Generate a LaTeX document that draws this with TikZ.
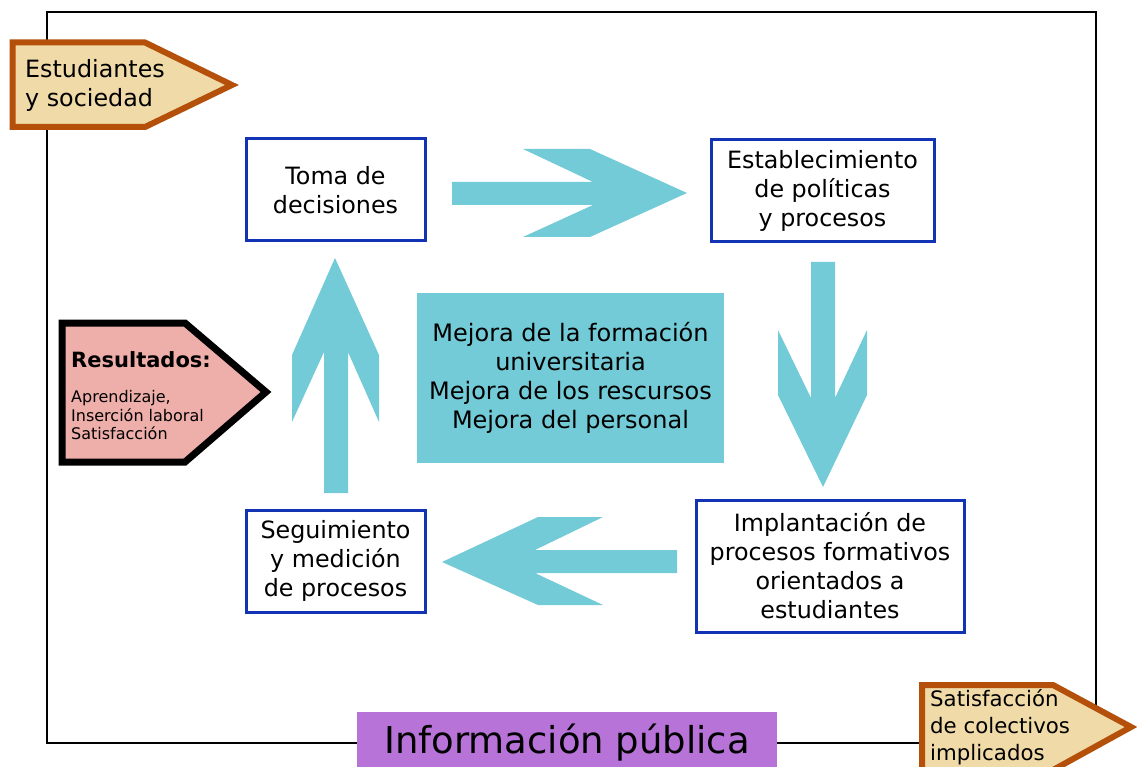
\documentclass[tikz,border=0pt]{standalone}
\usepackage{fontspec}
\setmainfont{DejaVu Sans}
\usetikzlibrary{positioning}
\definecolor{trigo}{HTML}{F0DBA8}
\definecolor{teja}{HTML}{B4500A}
\definecolor{rosa}{HTML}{EEAEAA}
\definecolor{azulcaja}{HTML}{1234B4}
\definecolor{cian}{HTML}{73CBD7}
\definecolor{malva}{HTML}{B873D8}
\begin{document}
\begin{tikzpicture}[x=1pt, y=-1pt,
    paso/.style={draw=azulcaja, line width=3pt, fill=white, align=center,
      inner sep=0pt, font=\fontsize{23.8}{29}\selectfont},
    etiqueta/.style={align=left, anchor=west, inner sep=0pt},
    flecha/.style={fill=cian, draw=none},
    entrada/.style={draw=teja, fill=trigo, line width=6pt, line join=miter}]
  \useasboundingbox (0,0) rectangle (1137,767);
  \clip (0,0) rectangle (1137,767);
  % Frame
  \draw[line width=1.8pt] (47,12) rectangle (1096,743);
  % Input and output tags
  \draw[entrada] (12.5,42.5) -- (145,42.5) -- (232,85) -- (145,127)
    -- (12.5,127) -- cycle;
  \node[etiqueta, font=\fontsize{23.8}{29}\selectfont] (estudiantes) at (25,85)
    {Estudiantes\\y sociedad};
  \draw[entrada] (922,685) -- (1053,685) -- (1131,727) -- (1053,770)
    -- (922,770) -- cycle;
  \node[etiqueta, font=\fontsize{21.3}{27}\selectfont] (satisfaccion) at (930,727)
    {Satisfacción\\de colectivos\\implicados};
  % Results
  \draw[draw=black, fill=rosa, line width=7pt, line join=miter]
    (62,323) -- (185,323) -- (266,392) -- (185,462) -- (62,462) -- cycle;
  \node[etiqueta, font=\bfseries\fontsize{21}{24}\selectfont] (resultados)
    at (71,360) {Resultados:};
  \node[etiqueta, font=\fontsize{16}{18.5}\selectfont,
    below=22pt of resultados.south west, anchor=north west] (logros)
    {Aprendizaje,\\Inserción laboral\\Satisfacción};
  % Steps of the cycle
  \node[paso, minimum width=179, minimum height=102] (toma) at (335.5,190)
    {Toma de\\decisiones};
  \node[paso, minimum width=223, minimum height=102] (politicas) at (822.5,191)
    {Establecimiento\\de políticas\\y procesos};
  \node[paso, minimum width=268, minimum height=132] (implantacion) at (830,566)
    {Implantación de\\procesos formativos\\orientados a\\estudiantes};
  \node[paso, minimum width=179, minimum height=102] (seguimiento) at (335.5,561)
    {Seguimiento\\y medición\\de procesos};
  % Centre
  \node[fill=cian, minimum width=307, minimum height=170, align=center,
    font=\fontsize{24}{29}\selectfont] (mejora) at (570.5,378)
    {Mejora de la formación\\universitaria\\Mejora de los rescursos\\Mejora del personal};
  % Block arrows
  \fill[flecha] (452,182) -- (593,182) -- (523,149) -- (590,149) -- (687,193)
    -- (590,237) -- (523,237) -- (593,205) -- (452,205) -- cycle;
  \fill[flecha] (811,262) -- (835,262) -- (835,398) -- (867,330) -- (867,395)
    -- (823,487) -- (778,395) -- (778,330) -- (811,398) -- cycle;
  \fill[flecha] (677,550) -- (535,550) -- (603,517) -- (538,517) -- (442,562)
    -- (538,605) -- (603,605) -- (535,573) -- (677,573) -- cycle;
  \fill[flecha] (324,493) -- (324,352) -- (292,422) -- (292,355) -- (335,258)
    -- (379,355) -- (379,422) -- (348,352) -- (348,493) -- cycle;
  % Public information
  \node[fill=malva, minimum width=420, minimum height=62, inner sep=0pt,
    font=\fontsize{37}{40}\selectfont] (informacion) at (567,743)
    {Información pública};
\end{tikzpicture}
\end{document}
